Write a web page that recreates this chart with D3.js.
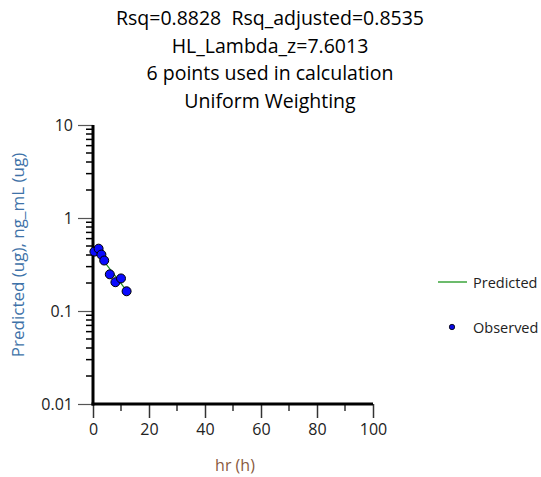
<!DOCTYPE html>
<html>
  <head>
    <meta charset="utf-8">
    <title>Lambda z plot</title>
    <script src="https://cdn.jsdelivr.net/npm/d3@7/dist/d3.min.js"></script>
    <style type="text/css">
        body { margin: 0; background: #fff; }
        svg { font-family: "Open Sans", "Noto Sans", sans-serif; }
    </style>
  </head>
  <body>
    <div id="viz"></div>
    <script type="text/javascript">

    // title lines
    var titleLines = ["Rsq=0.8828  Rsq_adjusted=0.8535", "HL_Lambda_z=7.6013",
                      "6 points used in calculation", "Uniform Weighting"];

    // observed points (hr, ng_mL)
    var obsTime = [0.5, 2, 3, 4, 6, 8, 10, 12];
    var obsConc = [0.435, 0.468, 0.404, 0.349, 0.248, 0.204, 0.224, 0.163];

    // predicted (terminal fit)
    var predTime = [3, 4, 6, 8, 10, 12];
    var predConc = [0.372, 0.340, 0.284, 0.237, 0.198, 0.165];

    var xTicks = [0, 20, 40, 60, 80, 100];
    var xMinor = [10, 30, 50, 70, 90];
    var yTicks = [0.01, 0.1, 1, 10];
    var yTickLabels = ["0.01", "0.1", "1", "10"];

    var width = 541, height = 477;
    var svg = d3.select("#viz").append("svg")
        .attr("width", width).attr("height", height);

    var x = d3.scaleLinear().domain([0, 100]).range([93, 373]);
    var y = d3.scaleLog().domain([0.01, 10]).range([404, 125]);

    // title
    svg.append("g").selectAll("text").data(titleLines).enter().append("text")
        .attr("x", 270).attr("y", function(d, i) { return 25 + i * 27.7; })
        .attr("text-anchor", "middle")
        .style("white-space", "pre")
        .style("font-size", "19.5px").style("fill", "#000")
        .text(function(d) { return d; });

    // y minor ticks
    var minors = [];
    [0.01, 0.1, 1].forEach(function(dec) {
        for (var k = 2; k <= 9; k++) minors.push(dec * k);
    });
    svg.append("g").selectAll("line").data(minors).enter().append("line")
        .attr("x1", 86).attr("x2", 93)
        .attr("y1", function(d) { return y(d); }).attr("y2", function(d) { return y(d); })
        .style("stroke", "#000").style("stroke-width", 1.5);

    // y axis
    var yAxis = d3.axisLeft(y).tickValues(yTicks)
        .tickFormat(function(d, i) { return yTickLabels[i]; })
        .tickSize(15).tickSizeOuter(0).tickPadding(5);
    var gy = svg.append("g").attr("transform", "translate(93,0)").call(yAxis);
    gy.select(".domain").remove();
    gy.selectAll(".tick line").style("stroke", "#555").style("stroke-width", 1.2);
    gy.selectAll(".tick text").style("font-size", "16px").style("fill", "#222")
        .style("font-family", "'Open Sans', sans-serif");

    // x minor ticks
    svg.append("g").selectAll("line").data(xMinor).enter().append("line")
        .attr("x1", function(d) { return x(d); }).attr("x2", function(d) { return x(d); })
        .attr("y1", 404).attr("y2", 411)
        .style("stroke", "#333").style("stroke-width", 1.5);

    var xAxis = d3.axisBottom(x).tickValues(xTicks)
        .tickSize(14).tickSizeOuter(0).tickPadding(6);
    var gx = svg.append("g").attr("transform", "translate(0,404)").call(xAxis);
    gx.select(".domain").remove();
    gx.selectAll(".tick line").style("stroke", "#333").style("stroke-width", 1.5);
    gx.selectAll(".tick text").style("font-size", "16px").style("fill", "#222")
        .style("font-family", "'Open Sans', sans-serif");

    // heavy axis lines
    svg.append("line").attr("x1", 93).attr("x2", 93).attr("y1", y(10)).attr("y2", 405.5)
        .style("stroke", "#000").style("stroke-width", 3);
    svg.append("line").attr("x1", 91.5).attr("x2", x(100)).attr("y1", 404).attr("y2", 404)
        .style("stroke", "#000").style("stroke-width", 3);

    // axis labels
    svg.append("text").attr("x", 235).attr("y", 471).attr("text-anchor", "middle")
        .style("font-size", "16px").style("fill", "#8a5a40").text("hr (h)");
    var yl = svg.append("text").attr("transform", "translate(24,255) rotate(-90)")
        .attr("text-anchor", "middle").style("font-size", "17px");
    yl.append("tspan").style("fill", "#3e72a8").text("Predicted (ug), ");
    yl.append("tspan").style("fill", "#3e72a8").text("ng_mL (ug)");

    // predicted line
    var line = d3.line()
        .x(function(d, i) { return x(predTime[i]); })
        .y(function(d) { return y(d); });
    svg.append("path").datum(predConc).attr("d", line)
        .style("fill", "none").style("stroke", "#1e8c1e").style("stroke-width", 1.2);

    // observed points
    svg.append("g").selectAll("circle").data(obsConc).enter().append("circle")
        .attr("cx", function(d, i) { return x(obsTime[i]); })
        .attr("cy", function(d) { return y(d); })
        .attr("r", 4.5)
        .style("fill", "#0a0aff").style("stroke", "#000").style("stroke-width", 1);

    // legend
    var leg = svg.append("g");
    leg.append("line").attr("x1", 438).attr("x2", 467).attr("y1", 282).attr("y2", 282)
        .style("stroke", "#6cbb6c").style("stroke-width", 2);
    leg.append("text").attr("x", 473).attr("y", 287.5).style("font-size", "14.5px")
        .style("fill", "#222").text("Predicted");
    leg.append("circle").attr("cx", 452).attr("cy", 327).attr("r", 2.7)
        .style("fill", "#0a0ae0").style("stroke", "#000").style("stroke-width", 0.8);
    leg.append("text").attr("x", 473).attr("y", 332.5).style("font-size", "14.5px")
        .style("fill", "#222").text("Observed");

    </script>
  </body>
</html>
